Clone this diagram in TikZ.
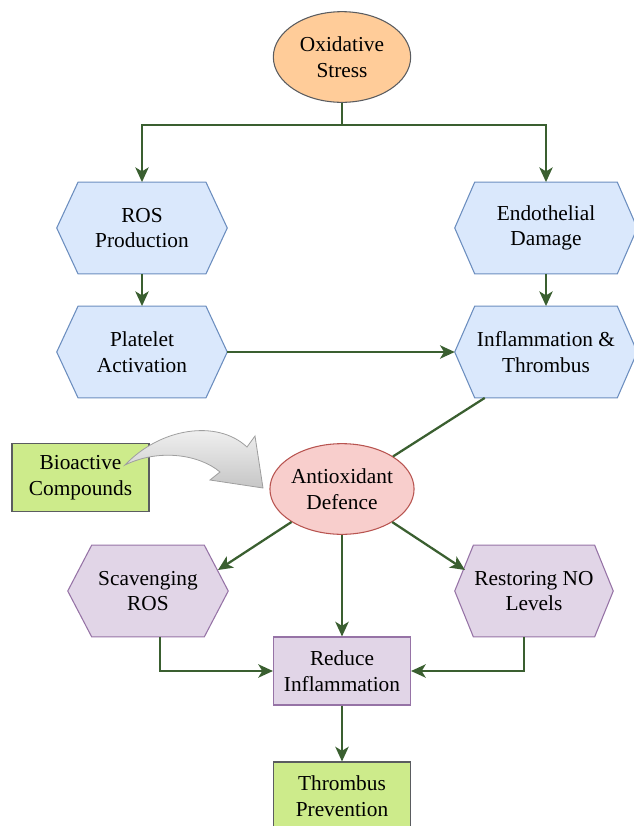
\documentclass[tikz,border=0pt]{standalone}
\usepackage{fontspec}
\setmainfont{Liberation Serif}
\usetikzlibrary{arrows.meta,shapes.geometric,backgrounds,calc}
\definecolor{conncol}{HTML}{3A5F30}
\definecolor{bluefill}{HTML}{DAE8FC}
\definecolor{blueline}{HTML}{6C8EBF}
\definecolor{purpfill}{HTML}{E1D5E7}
\definecolor{purpline}{HTML}{9673A6}
\definecolor{pinkfill}{HTML}{F8CECC}
\definecolor{pinkline}{HTML}{B85450}
\definecolor{orfill}{HTML}{FFCC99}
\definecolor{grfill}{HTML}{CDEB8B}
\definecolor{darkline}{HTML}{5A5C60}
\newcommand{\hexdraw}[3]{%
  \path[#3] (#1.west) -- ([xshift=#2]#1.north west) -- ([xshift=-#2]#1.north east)
    -- (#1.east) -- ([xshift=-#2]#1.south east) -- ([xshift=#2]#1.south west) -- cycle;}
\begin{document}
\begin{tikzpicture}[x=0.75pt,y=-0.75pt,
  lbl/.style={font=\fontsize{16}{19.3}\selectfont, align=center, inner sep=0pt, text=black},
  hexnode/.style={lbl, minimum height=68.5pt},
  bluehex/.style={fill=bluefill, draw=blueline, line width=0.8pt},
  purphex/.style={fill=purpfill, draw=purpline, line width=0.8pt},
  ellnode/.style={lbl, ellipse, line width=0.8pt, minimum width=103pt, minimum height=68pt},
  boxnode/.style={lbl, rectangle, line width=0.8pt, minimum width=102.75pt, minimum height=51pt},
  plain/.style={draw=conncol, line width=1.7pt},
  conn/.style={plain, -{Stealth[length=11pt, width=10pt, inset=3pt]}}]
\useasboundingbox (0,0) rectangle (633,826);

% nodes
\node[ellnode, fill=orfill, draw=darkline] (ox) at (342,57) {Oxidative\\Stress};
\node[hexnode, minimum width=127.5pt] (ros) at (142,228) {ROS\\Production};
\node[hexnode, minimum width=136.5pt] (endo) at (546,228) {Endothelial\\Damage};
\node[hexnode, minimum width=127.5pt] (pla) at (142,352) {Platelet\\Activation};
\node[hexnode, minimum width=136.5pt] (inf) at (546,352) {Inflammation \&\\Thrombus};
\node[boxnode, fill=grfill, draw=darkline] (bio) at (80.5,477.5) {Bioactive\\Compounds};
\node[ellnode, fill=pinkfill, draw=pinkline] (anti) at (342,489) {Antioxidant\\Defence};
\node[hexnode, minimum width=120pt] (scv) at (148,591) {Scavenging\\ROS};
\node[hexnode, minimum width=118.5pt] (rno) at (534,591) {Restoring NO\\Levels};
\node[boxnode, fill=purpfill, draw=purpline] (red) at (342,671) {Reduce\\Inflammation};
\node[boxnode, fill=grfill, draw=darkline] (thr) at (342,796) {Thrombus\\Prevention};

% hexagon outlines behind the labels
\begin{pgfonlayer}{background}
\hexdraw{ros}{16pt}{bluehex}
\hexdraw{pla}{16pt}{bluehex}
\hexdraw{endo}{15pt}{bluehex}
\hexdraw{inf}{15pt}{bluehex}
\hexdraw{scv}{18pt}{purphex}
\hexdraw{rno}{14pt}{purphex}
\end{pgfonlayer}

% connectors
\coordinate (split) at (342,125);
\draw[plain] (ox.south) -- (split);
\draw[conn] (split) -| (ros.north);
\draw[conn] (split) -| (endo.north);
\draw[conn] (ros.south) -- (pla.north);
\draw[conn] (endo.south) -- (inf.north);
\draw[conn] (pla.east) -- (inf.west);
\draw[plain] ([xshift=22.5pt]inf.south west) -- (anti);

\coordinate (scvin) at (218,570);
\coordinate (rnoin) at (465,570);
\draw[conn] (anti) -- (scvin);
\draw[conn] (anti) -- (rnoin);
\draw[conn] (anti.south) -- (red.north);
\draw[conn] ([xshift=9pt]scv.south) |- (red.west);
\draw[conn] ([xshift=-7.5pt]rno.south) |- (red.east);
\draw[conn] (red.south) -- (thr.north);

% curved block arrow from the compounds box
\shade[top color=gray!6, bottom color=gray!45, draw=gray!75, line width=0.6pt]
  (125,465) .. controls (160,428) and (217,419) .. (247,447)
  -- (255,436) -- (263,488) -- (210,480) -- (220,472)
  .. controls (200,455) and (160,448) .. (125,465) -- cycle;
\end{tikzpicture}
\end{document}
